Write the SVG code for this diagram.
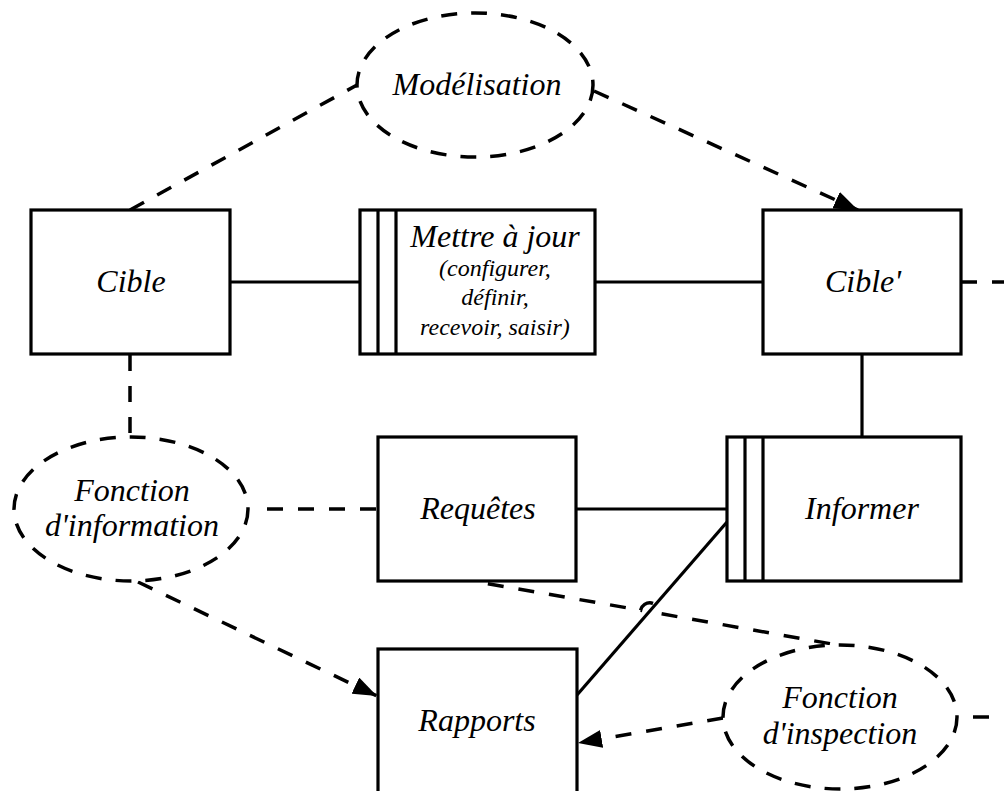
<svg xmlns="http://www.w3.org/2000/svg" width="1004" height="791" viewBox="0 0 1004 791">
<defs>
<style>
.box{fill:#fff;stroke:#000;stroke-width:3.2}
.ell{fill:#fff;stroke:#000;stroke-width:3.5;stroke-dasharray:16 14}
.bar{stroke:#000;stroke-width:3.2;fill:none}
.solid{stroke:#000;stroke-width:3.2;fill:none}
.dash{stroke:#000;stroke-width:3.5;fill:none;stroke-dasharray:16 15}
text{font-family:"Liberation Serif","Times New Roman",serif;font-style:italic;font-size:32px;fill:#000;text-anchor:middle}
.small{font-size:24px}
</style>
<marker id="arr" viewBox="0 0 24 18" refX="24" refY="9" markerWidth="24" markerHeight="18" markerUnits="userSpaceOnUse" orient="auto">
<path d="M0,0 L24,9 L0,18 z" fill="#000"/>
</marker>
</defs>
<rect width="1004" height="791" fill="#fff"/>
<g id="connectors">
<line class="solid" x1="230" y1="282" x2="360" y2="282"/>
<line class="solid" x1="595" y1="282" x2="763" y2="282"/>
<line class="solid" x1="862" y1="354" x2="862" y2="437"/>
<line class="solid" x1="576" y1="509" x2="727" y2="509"/>
<line class="solid" x1="727" y1="522" x2="577" y2="695"/>
<line class="dash" x1="130" y1="210" x2="357" y2="85"/>
<line class="dash" x1="594" y1="91" x2="858" y2="210" marker-end="url(#arr)"/>
<line class="dash" x1="961" y1="282" x2="1010" y2="282"/>
<line class="dash" x1="130" y1="355" x2="130" y2="437"/>
<line class="dash" x1="267" y1="509" x2="378" y2="509"/>
<line class="dash" x1="138" y1="582" x2="377" y2="696" marker-end="url(#arr)"/>
<path class="dash" stroke-dashoffset="21" d="M478,582 L640.6,610.2 A9.5,9.5 0 0 1 659.3,613.4 L832,644"/>
<line class="dash" x1="723" y1="718" x2="578" y2="743" marker-end="url(#arr)"/>
<line class="dash" x1="958" y1="717" x2="1010" y2="717" stroke-dashoffset="16"/>
</g>
<g id="modelisation">
<ellipse class="ell" cx="475" cy="85" rx="118" ry="72"/>
<text x="477" y="95">Modélisation</text>
</g>
<g id="cible">
<rect class="box" x="31" y="210" width="199" height="144"/>
<text x="131" y="292">Cible</text>
</g>
<g id="mettre">
<rect class="box" x="360" y="210" width="235" height="144"/>
<line class="bar" x1="378" y1="210" x2="378" y2="354"/>
<line class="bar" x1="396" y1="210" x2="396" y2="354"/>
<text x="495" y="247">Mettre à jour</text>
<text class="small" x="495" y="276">(configurer,</text>
<text class="small" x="495" y="305">définir,</text>
<text class="small" x="495" y="335">recevoir, saisir)</text>
</g>
<g id="cible2">
<rect class="box" x="763" y="210" width="198" height="144"/>
<text x="863" y="292">Cible'</text>
</g>
<g id="fonction-information">
<ellipse class="ell" cx="131" cy="509" rx="117" ry="72"/>
<text x="132" y="501">Fonction</text>
<text x="132" y="536">d'information</text>
</g>
<g id="requetes">
<rect class="box" x="378" y="437" width="198" height="144"/>
<text x="478" y="519">Requêtes</text>
</g>
<g id="informer">
<rect class="box" x="727" y="437" width="234" height="144"/>
<line class="bar" x1="745" y1="437" x2="745" y2="581"/>
<line class="bar" x1="763" y1="437" x2="763" y2="581"/>
<text x="862" y="519">Informer</text>
</g>
<g id="rapports">
<rect class="box" x="378" y="649" width="199" height="160"/>
<text x="477" y="731">Rapports</text>
</g>
<g id="fonction-inspection">
<ellipse class="ell" cx="840" cy="717" rx="117" ry="72"/>
<text x="840" y="708">Fonction</text>
<text x="840" y="744">d'inspection</text>
</g>
</svg>
